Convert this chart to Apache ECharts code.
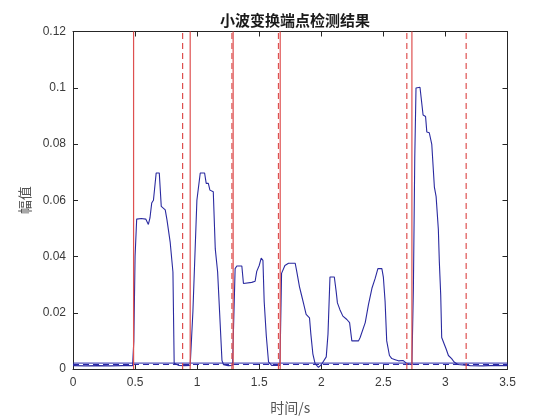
<!DOCTYPE html>
<html>
<head>
<meta charset="utf-8">
<script src="https://cdn.jsdelivr.net/npm/echarts@6/dist/echarts.min.js"></script>
<style>
html,body{margin:0;padding:0;background:#fff;}
#main{width:560px;height:420px;}
</style>
</head>
<body>
<div id="main"></div>
<script>
// Signal (time in s, amplitude)
var time = [0,0.1,0.2,0.3,0.4,0.48,
0.49,0.50,0.513,0.55,0.586,0.607,0.62,0.634,0.648,0.67,0.695,0.711,0.743,0.757,0.783,0.805,0.815,0.85,0.9,0.944,
0.966,0.998,1.025,1.06,1.073,1.09,1.103,1.13,1.146,1.165,1.2,1.213,1.25,1.285,
1.306,1.32,1.36,1.373,1.44,1.467,1.48,1.5,1.516,1.53,1.54,1.557,1.575,1.6,1.667,
1.68,1.707,1.736,1.79,1.803,1.824,1.84,1.856,1.878,1.905,1.916,1.932,1.95,1.977,2.0,2.04,2.054,2.07,2.105,2.12,2.13,2.15,2.174,2.206,2.228,2.246,2.3,2.313,2.354,2.38,2.408,2.434,2.456,2.488,2.5,2.514,2.527,2.549,2.568,2.595,2.622,2.66,2.69,2.73,
2.742,2.753,2.763,2.795,2.81,2.82,2.84,2.85,2.87,2.89,2.903,2.911,2.925,2.943,2.951,2.962,2.97,2.99,3.005,3.024,3.05,3.07,3.1,3.2,3.3,3.4,3.5];
var amp = [0.0012,0.0011,0.0012,0.0011,0.0012,0.0012,
0.010,0.040,0.0533,0.0535,0.0533,0.0514,0.0537,0.059,0.060,0.0697,0.0697,0.0578,0.0566,0.053,0.045,0.0345,0.002,0.0013,0.0012,0.0013,
0.0205,0.060,0.0697,0.0697,0.066,0.066,0.0636,0.063,0.0427,0.0345,0.003,0.0015,0.0012,0.0013,
0.0357,0.0366,0.0366,0.0304,0.0308,0.0312,0.0347,0.0368,0.0394,0.0386,0.024,0.0118,0.0025,0.0013,0.0013,
0.034,0.0368,0.0376,0.0376,0.0345,0.0293,0.0264,0.0235,0.0194,0.0182,0.0124,0.0054,0.0019,0.0006,0.0015,0.0043,0.0124,0.0327,0.0327,0.0275,0.0235,0.0211,0.0188,0.0176,0.0165,0.010,0.010,0.0112,0.0165,0.0229,0.0287,0.0322,0.0357,0.0357,0.0327,0.024,0.010,0.0048,0.0037,0.0033,0.0029,0.003,0.0019,0.0015,
0.029,0.075,0.0999,0.1002,0.1,0.0903,0.0898,0.0843,0.084,0.0799,0.0793,0.0647,0.0613,0.0496,0.038,0.0264,0.0112,0.0089,0.0072,0.0048,0.0037,0.0025,0.0016,0.0012,0.0011,0.0013,0.0012];
// Endpoint markers (s)
var starts = [0.488,0.944,1.29,1.669,2.73];
var ends = [0.883,1.28,1.655,2.689,3.167];
// Threshold levels
var thresholdHigh = 0.0021;
var thresholdLow = 0.0016;
var xTicks = {min:0, max:3.5, interval:0.5};
var yTicks = {min:0, max:0.12, interval:0.02};

var signal = time.map(function(t,i){return [t, amp[i]];});
var series = [];
series.push({type:'line', data:[[0,thresholdHigh],[3.5,thresholdHigh]], showSymbol:false, silent:true,
  lineStyle:{color:'#2a2aa8', width:1}, z:2});
series.push({type:'line', data:[[0,thresholdLow],[3.5,thresholdLow]], showSymbol:false, silent:true,
  lineStyle:{color:'#2a2aa8', width:1, type:[6,4]}, z:2});
series.push({type:'line', data:signal, showSymbol:false, lineStyle:{color:'#2a2aa0', width:1.1}, z:3});
starts.forEach(function(s){
  series.push({type:'line', data:[[s,0],[s,0.12]], showSymbol:false, silent:true,
    lineStyle:{color:'#de5050', width:1.2}, z:4});
});
ends.forEach(function(s){
  series.push({type:'line', data:[[s,0],[s,0.12]], showSymbol:false, silent:true,
    lineStyle:{color:'#de5050', width:1.2, type:[6,4]}, z:4});
});

var axisCommon = {
  axisLine:{show:true, onZero:false, lineStyle:{color:'#262626', width:1}},
  axisTick:{show:true, inside:true, length:5, lineStyle:{color:'#262626'}},
  splitLine:{show:false}
};
var labelStyle = {color:'#3a3a3a', fontSize:12, fontFamily:'Liberation Sans, Arial, sans-serif'};

var chart = echarts.init(document.getElementById('main'), null, {renderer:'canvas'});
chart.setOption({
  animation:false,
  backgroundColor:'#ffffff',
  title:{text:'小波变换端点检测结果', left:290, top:8, textAlign:'center',
    textStyle:{fontFamily:'Noto Sans CJK SC', fontSize:15, fontWeight:'bold', color:'#1a1a1a'}},
  grid:{left:73, right:52.5, top:31.5, bottom:44.5, containLabel:false},
  xAxis:[
    Object.assign({type:'value', position:'bottom', min:xTicks.min, max:xTicks.max, interval:xTicks.interval,
      name:'时间/s', nameLocation:'middle', nameGap:32,
      nameTextStyle:{color:'#555', fontSize:14, fontFamily:'Noto Sans CJK SC'},
      axisLabel:Object.assign({margin:8}, labelStyle)}, axisCommon),
    Object.assign({type:'value', position:'top', min:xTicks.min, max:xTicks.max, interval:xTicks.interval,
      axisLabel:{show:false}}, axisCommon)
  ],
  yAxis:[
    Object.assign({type:'value', position:'left', min:yTicks.min, max:yTicks.max, interval:yTicks.interval,
      name:'幅值', nameLocation:'middle', nameGap:41,
      nameTextStyle:{color:'#555', fontSize:14, fontFamily:'Noto Sans CJK SC'},
      axisLabel:Object.assign({margin:7}, labelStyle)}, axisCommon),
    Object.assign({type:'value', position:'right', min:yTicks.min, max:yTicks.max, interval:yTicks.interval,
      axisLabel:{show:false}}, axisCommon)
  ],
  series:series
});
</script>
</body>
</html>
